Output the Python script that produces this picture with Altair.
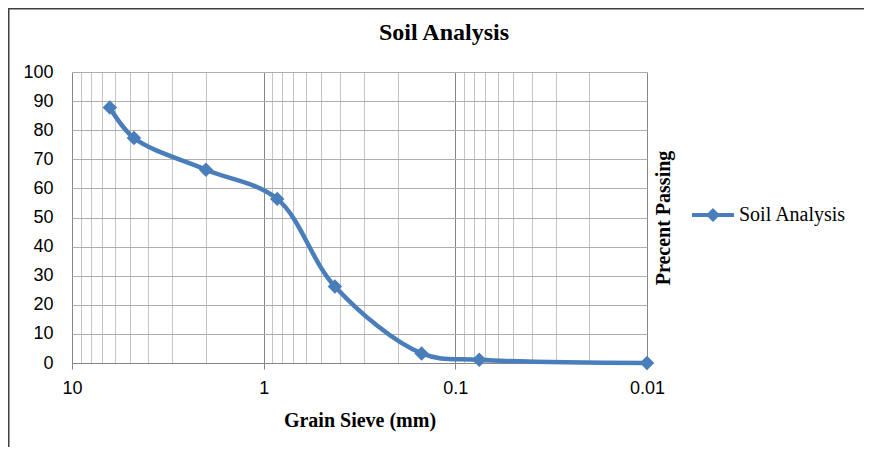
import altair as alt
import pandas as pd

# ---- data ----
chart_title = "Soil Analysis"
sieve_mm = [6.35, 4.75, 2.0, 0.85, 0.425, 0.15, 0.075, 0.01]
percent_passing = [87.8, 77.3, 66.4, 56.4, 26.3, 3.3, 1.1, 0.0]
series_name = "Soil Analysis"

major_ticks = [10, 1, 0.1, 0.01]
minor_multipliers = [2, 3, 4, 5, 6, 7, 8, 9]
decades = [1, 0.1, 0.01]
y_ticks = list(range(0, 101, 10))

x_values = major_ticks + [round(m * d, 4) for d in decades for m in minor_multipliers]

df = pd.DataFrame({
    "size": sieve_mm,
    "pass": percent_passing,
    "series": [series_name] * len(sieve_mm),
})

BLUE = "#4A7EBB"
W, H = 575, 291
PAD = {"left": 64, "top": 64, "right": 217, "bottom": 84}
SANS = "Liberation Sans"
SERIF = "Liberation Serif"

major_test = "indexof([10, 1, 0.1, 0.01], datum.value) >= 0"

x_enc = alt.X(
    "size:Q",
    scale=alt.Scale(type="log", domain=[0.01, 10], reverse=True, nice=False),
    axis=alt.Axis(
        values=x_values, format="~g",
        labelExpr=f"{major_test} ? datum.label : ''",
        labelFont=SANS, labelFontSize=18, labelColor="black",
        labelBaseline="alphabetic", labelPadding=24, labelOverlap=False, labelFlush=False,
        tickSize=6,
        tickColor={"condition": {"test": major_test, "value": "#868686"}, "value": "transparent"},
        gridColor={"condition": {"test": major_test, "value": "#868686"}, "value": "#C4C4C4"},
        domainColor="#868686",
        title="Grain Sieve (mm)", titleFont=SERIF, titleFontSize=20, titleFontWeight="bold",
        titleColor="black", titleY=63, titleBaseline="alphabetic",
    ),
)

y_enc = alt.Y(
    "pass:Q",
    scale=alt.Scale(domain=[0, 100], nice=False),
    axis=alt.Axis(
        values=y_ticks, labelFont=SANS, labelFontSize=18, labelColor="black",
        labelPadding=19, ticks=False, domain=False, gridColor="#ADADAD",
        title="Precent Passing", titleFont=SERIF, titleFontSize=20, titleFontWeight="bold",
        titleColor="black", titleX=591, titleY=145.5, titleAngle=270,
        titleAlign="center", titleBaseline="middle",
    ),
)

base = alt.Chart(df)

line = base.mark_line(interpolate="catmull-rom", color=BLUE, strokeWidth=4.5).encode(x=x_enc, y=y_enc)

legend_path = "M-1,0H1M0,-0.2L0.2,0L0,0.2L-0.2,0Z"
points = base.mark_point(shape="diamond", filled=True, size=210, opacity=1).encode(
    x=x_enc, y=y_enc,
    color=alt.Color(
        "series:N",
        scale=alt.Scale(range=[BLUE]),
        legend=alt.Legend(
            title=None, orient="none", legendX=618, legendY=120, padding=0,
            symbolType=legend_path, symbolSize=1764, symbolStrokeWidth=4,
            symbolStrokeColor=BLUE, symbolFillColor=BLUE, symbolOffset=0,
            labelFont=SERIF, labelFontSize=20, labelColor="black", labelOffset=3,
        ),
    ),
)

frame_data = alt.Data(values=[{"k": 0}])
top_border = alt.Chart(frame_data).mark_rule(color="#404040", strokeWidth=1.5, clip=False).encode(
    x=alt.value(-PAD["left"]), x2=alt.value(W + PAD["right"]), y=alt.value(-PAD["top"] + 0.75)
)
left_border = alt.Chart(frame_data).mark_rule(color="#404040", strokeWidth=1.5, clip=False).encode(
    x=alt.value(-PAD["left"] + 0.75), y=alt.value(-PAD["top"]), y2=alt.value(H + PAD["bottom"])
)
title_mark = alt.Chart(frame_data).mark_text(
    text=chart_title, font=SERIF, fontSize=24, fontWeight="bold", color="black",
    align="center", baseline="alphabetic", clip=False,
).encode(x=alt.value(372), y=alt.value(-32))

chart = alt.layer(line, points, top_border, left_border, title_mark).properties(
    width=W, height=H,
    padding=PAD,
    autosize=alt.AutoSizeParams(type="none"),
).configure_view(stroke=None).configure(background="white")

chart.save("out.html", embed_options={"renderer": "svg", "actions": False})
